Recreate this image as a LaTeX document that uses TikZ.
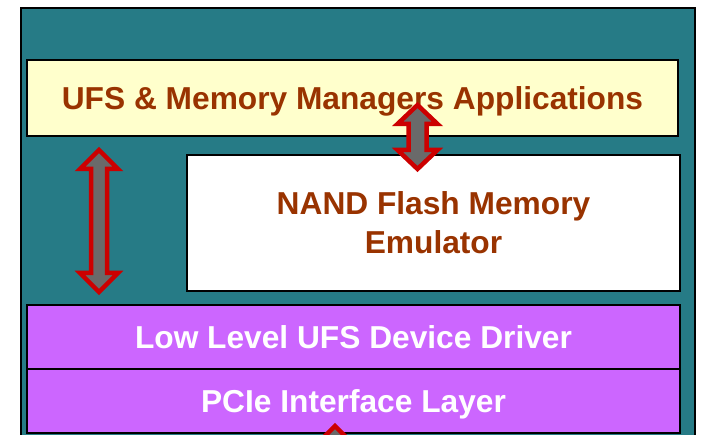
\documentclass[tikz,border=0pt]{standalone}
\usepackage{fontspec}
\setmainfont{Liberation Sans}
\usetikzlibrary{positioning}
\definecolor{tealbg}{HTML}{267B86}
\definecolor{appyellow}{HTML}{FFFFCC}
\definecolor{drvpurple}{HTML}{CC66FF}
\definecolor{txtbrown}{HTML}{993300}
\definecolor{arrred}{HTML}{CC0000}
\definecolor{arrgray}{HTML}{6A6A6A}
\begin{document}
\begin{tikzpicture}[x=1pt,y=-1pt,
    layer/.style={draw=black,line width=2pt,outer sep=0pt,inner sep=0pt,anchor=north west,
        font=\bfseries\fontsize{31.7}{39}\selectfont,align=center},
    oneline/.style={text height=23pt,text depth=0pt},
    blockarrow/.style={draw=arrred,fill=arrgray,line width=4.5pt,line join=miter}]
\useasboundingbox (0,0) rectangle (702,435);
\clip (0,0) rectangle (702,435);
\draw[fill=tealbg,line width=2pt] (21,8) rectangle (695,460);
% layers of the stack
\node[layer,oneline,fill=appyellow,text=txtbrown,minimum width=651pt,minimum height=76pt] (apps) at (27,60) {UFS \& Memory Managers Applications};
\node[layer,fill=white,text=txtbrown,minimum width=493pt,minimum height=136pt] (nand) at (187,155) {NAND Flash Memory\\Emulator};
\node[layer,oneline,fill=drvpurple,text=white,minimum width=653pt,minimum height=64pt] (ufsdrv) at (27,305) {Low Level UFS Device Driver};
\node[layer,oneline,fill=drvpurple,text=white,minimum width=653pt,minimum height=64pt,below=0pt of ufsdrv] (pcie) {PCIe Interface Layer};
% double block arrows
\foreach \x/\ya/\yb/\s/\h in {99/150/292/8/19,417.5/105/169/9/20,335/426/560/8/19}
{
    \draw[blockarrow] (\x,\ya)--(\x+\h,\ya+19)--(\x+\s,\ya+19)--(\x+\s,\yb-19)--(\x+\h,\yb-19)
        --(\x,\yb)--(\x-\h,\yb-19)--(\x-\s,\yb-19)--(\x-\s,\ya+19)--(\x-\h,\ya+19)--cycle;
}
\end{tikzpicture}
\end{document}
